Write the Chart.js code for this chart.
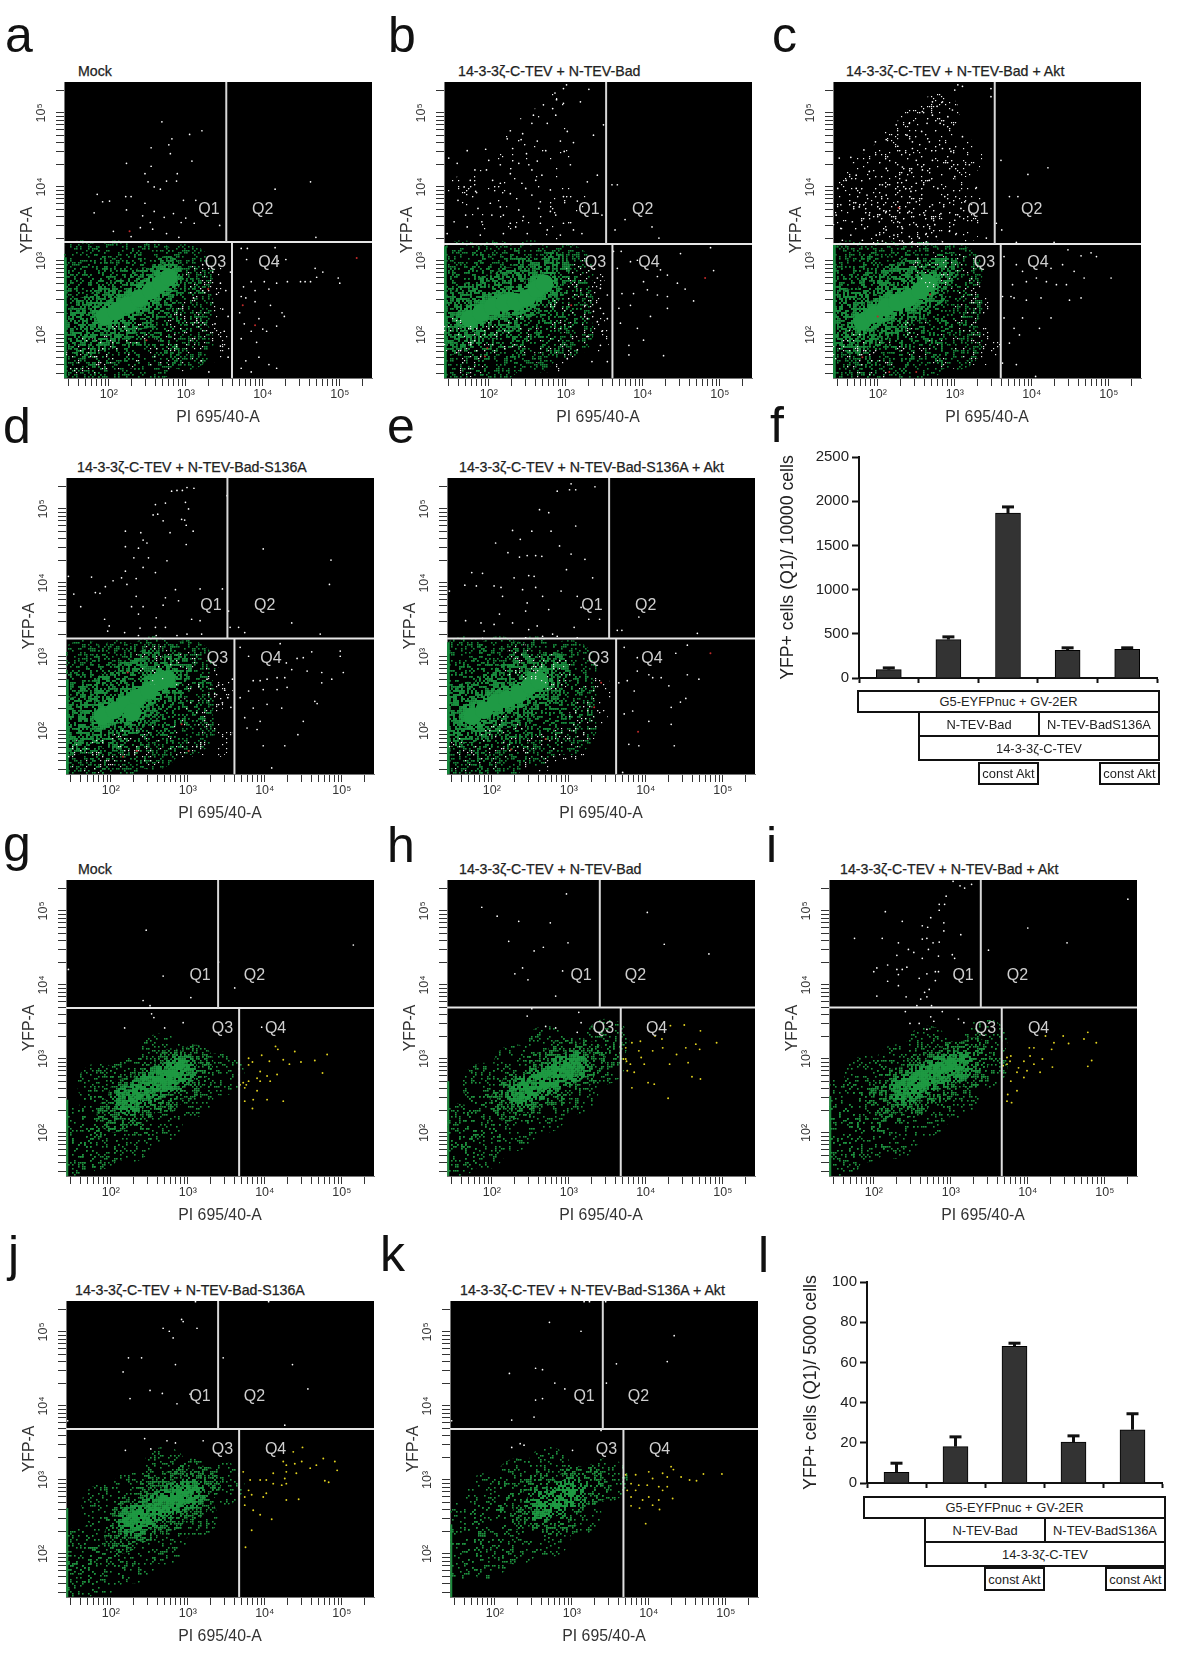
<!DOCTYPE html>
<html><head><meta charset="utf-8"><title>Flow cytometry panels</title>
<script src="https://cdn.jsdelivr.net/npm/chart.js@4"></script>
<style>
html,body{margin:0;padding:0;background:#fff;width:1200px;height:1677px;overflow:hidden;font-family:"Liberation Sans",Arial,sans-serif}
canvas{position:absolute}
.let{position:absolute;font-size:50px;line-height:50px;color:#111}
.ttl{position:absolute;font-size:14.2px;line-height:16px;color:#222;white-space:nowrap;-webkit-text-stroke:.25px #222}
.box{position:absolute;box-sizing:border-box;border:2px solid #111;background:#fff;color:#222;font-size:12.9px;display:flex;align-items:center;justify-content:center;white-space:nowrap}
</style></head><body>
<script>
// ---------- axis ticks (raw intensity) ----------
const fcsTicks=[30,40,50,60,70,80,90,100,200,300,400,500,600,700,800,900,1000,2000,3000,4000,5000,6000,7000,8000,9000,10000,20000,30000,40000,50000,60000,70000,80000,90000,100000,200000];
const decadeLabels={100:"10²",1000:"10³",10000:"10⁴",100000:"10⁵"};
// gates: upper vertical x, horizontal y, lower vertical x
const a_gate=[352.6,325.7,360],b_gate=[352.4,323,360.6],c_gate=[351.9,323,359.7],d_gate=[351.5,324.8,360.6],e_gate=[352.4,324.8,361.5];
const g_gate=[339.4,368.9,366.7],h_gate=[340.3,369.4,367.5],i_gate=[339,369.4,366.2],j_gate=[339.4,368.9,366.7],k_gate=[340.3,368.9,367.1];
// top of the event pile-up on the left axis
const pileTop={a:305,b:320,c:322,d:270,e:320,g:245,h:270,i:250,j:262,k:240};
// green cloud outlines: wide region, dense region, core ridge
const a_wide=[165,170,165,215,165,255,165,290,210,170,210,215,210,255,210,290,255,175,255,220,255,260,255,290,300,190,300,240,300,285];
const a_mid=[155,210,170,190,170,230,195,200,195,245,220,215,220,255,245,230,245,270,265,250,275,285];
const a_core=[195,225,210,232,225,241,240,250,255,260,268,270,278,278];
const b_wide=[165,170,165,215,165,255,165,290,210,175,210,215,210,255,210,290,255,185,255,220,255,260,255,290,300,205,300,245,300,285];
const b_mid=[155,195,155,235,175,205,175,250,200,215,200,260,225,225,225,270,250,245,250,285,275,260,285,290];
const b_core=[175,222,190,230,205,238,220,243,235,245,250,250,262,262,272,270];
const c_wide=[165,170,165,215,165,255,165,290,210,170,210,215,210,255,210,290,255,175,255,220,255,260,255,290,300,190,300,240,300,285];
const c_mid=[150,205,150,245,170,195,170,240,195,205,195,260,220,220,220,275,245,240,245,285,270,260,285,290];
const c_core=[180,218,195,228,210,237,225,244,240,250,255,260,265,270];
const d_wide=[165,165,165,210,165,250,165,285,210,165,210,210,210,250,210,285,255,185,255,225,255,260,255,290,300,205,300,245,300,285];
const d_mid=[155,190,155,225,175,205,175,245,200,195,200,260,225,215,225,275,250,240,250,290,275,255,285,285];
const d_core=[190,220,205,228,220,236,235,245,250,255,262,266,272,270,228,225];
const e_wide=[165,170,165,215,165,255,165,290,210,170,210,215,210,255,210,290,255,190,255,225,255,260,255,290,300,205,300,245,300,285];
const e_mid=[150,200,150,235,170,205,170,245,195,210,195,255,220,225,220,270,245,240,245,285,270,255,280,285];
const e_core=[175,220,190,228,205,238,220,243,235,250,250,262,262,268];
const g_wide=[155,165,155,205,185,180,185,225,185,265,225,190,225,235,225,275,265,215,265,260,265,305,305,250,305,290,345,280];
const g_mid=[205,225,220,250,235,235,250,265,270,250,280,290,300,270,310,295];
const g_core=[225,245,245,258,262,270,280,278,292,285];
const h_wide=[155,170,155,210,190,180,190,225,190,265,230,205,230,250,230,290,270,230,270,275,270,315,310,255,310,300,345,295,350,325];
const h_mid=[220,240,235,262,250,250,265,285,280,262,295,305,310,280,325,300];
const h_core=[240,255,258,265,275,274,292,283,305,290];
const i_wide=[155,165,155,205,155,245,190,190,190,230,190,275,230,195,230,245,230,290,270,225,270,270,270,315,310,250,310,295,345,290,345,325];
const i_mid=[215,245,235,265,250,245,265,285,285,265,305,300,325,285,330,305];
const i_core=[240,258,258,268,275,278,292,286,308,290];
const j_wide=[155,165,155,205,190,175,190,220,190,265,230,190,230,240,230,285,270,215,270,265,270,315,310,250,310,300,345,295];
const j_mid=[215,225,225,250,245,240,255,280,275,255,290,295,305,270,320,295];
const j_core=[230,245,248,254,268,265,285,277,302,282];
const k_wide=[155,195,155,240,190,195,190,240,190,280,230,215,230,260,230,300,270,225,270,270,270,315,310,255,310,295,345,300];
const k_mid=[245,250,260,285,270,245,280,275,295,260,305,295,325,290];
const k_core=[260,265,275,272,290,278,300,282];
// speckled white events mixed into the Q3 population, and the dense white cone in Q1 of b and c
const a_haze=[170,170,205,175,225,195,250,170,285,175,300,215,320,240,325,275,333,190];
const b_haze=[175,170,200,190,240,200,285,175,300,230,325,240,333,200,325,280,160,200];
const c_haze=[165,180,190,160,215,170,250,195,290,180,315,220,330,250,333,185,310,285,270,285];
const d_haze=[170,165,210,175,250,180,295,190,320,235,333,260,333,190,300,280,255,290];
const e_haze=[165,165,195,175,220,195,260,170,300,185,325,215,333,250,280,280,240,290];
const b_cone=[170,390,195,400,195,360,225,450,225,410,225,365,255,470,255,425,255,375,285,500,285,445,285,390,285,350,315,365];
const c_cone=[165,395,165,360,190,420,190,385,190,350,220,450,220,415,220,380,220,350,250,480,250,445,250,410,250,375,250,345,280,500,280,465,280,430,280,395,280,355,310,440,310,380,310,350];
// individually visible events
const a_white=[269,488,305,471,321,476,282,465,255,453,278,457,280,445,223,432,308,435,255,428,247,418,289,418,275,408,288,408,251,407,259,400,267,397,462,407,416,397,185,390,192,380,201,381,222,387,229,387,223,369,181,365,247,378,297,382,313,382,259,367,284,364,244,361,272,359,300,358,254,352,294,352,311,351,206,340,241,345,257,343,344,348,275,337,229,333,291,332,469,332,372,317,380,317,416,318,379,302,420,300,430,302,468,290,478,285,470,278,449,272,455,272,462,272,498,277,500,270,385,272,402,272,418,270,432,272,375,265,390,260,408,262,372,252,378,250,390,245,410,240,425,230,428,225,370,230,395,222,376,215,385,205,400,208,418,212,372,195,392,190,405,205,378,165,395,170,408,160,418,155,372,155,385,150,322,295,335,285,345,270,352,260,340,255,310,250,348,235,355,225,338,215,350,205,345,185,320,165,355,170,330,150,358,285];
const a_red=[522,304,374,240,390,213,249,193,227,340,329,262];
const b_white=[301,538,297,533,330,532,286,527,319,515,271,511,288,518,283,506,297,513,287,497,258,497,256,486,276,486,349,484,228,476,244,472,302,475,336,470,224,465,242,464,263,462,293,462,310,460,231,452,196,451,172,449,274,449,298,448,249,445,148,439,200,436,263,435,159,432,215,430,239,432,252,430,306,430,197,423,182,423,228,418,256,423,269,416,341,416,205,409,176,409,215,405,243,405,261,409,328,407,360,403,367,403,168,400,248,398,183,394,280,396,228,391,256,389,297,387,160,382,202,378,267,380,315,381,186,371,215,373,239,369,265,371,280,367,170,362,204,362,219,362,245,360,287,362,347,362,377,356,155,353,191,353,228,351,267,351,297,351,172,346,235,346,276,342,364,342,412,346,310,342,146,337,189,335,219,337,250,337,293,335,321,337,421,331,362,313,372,313,449,310,488,318,384,299,393,301,367,290,492,287,423,288,401,272,419,279,432,281,445,270,455,262,466,246,406,261,373,256,388,256,419,254,432,252,369,236,384,240,432,236,410,225,371,216,393,209,401,193,382,186,382,173,427,172,341,277,345,236,349,229,354,222,336,232,341,218,347,205,325,240,328,222,345,186,354,164,334,164,302,168,315,180,328,198,345,263,354,254];
const b_red=[481,277,307,240,198,182,195,171];
const c_white=[304,538,310,536,300,531,347,533,347,522,271,515,284,515,277,509,297,504,258,502,271,497,291,495,264,486,281,486,241,486,224,484,257,475,238,470,310,468,211,464,267,461,245,461,197,461,284,452,245,452,226,455,182,450,295,448,165,440,150,439,360,436,421,426,319,430,271,436,250,436,211,425,232,427,258,423,189,421,172,416,237,409,267,409,300,414,395,417,159,409,206,403,250,405,278,398,328,399,172,398,148,398,186,389,211,389,243,394,287,387,313,380,371,387,382,387,152,376,176,373,226,380,250,380,271,376,308,371,146,362,189,362,211,367,241,367,261,362,282,364,300,355,167,353,202,353,226,353,250,349,274,349,354,351,152,344,183,344,211,342,232,344,263,337,293,340,361,342,165,335,198,335,221,335,241,333,254,331,276,333,302,337,341,331,154,328,180,328,206,327,232,327,245,326,263,326,284,326,380,325,429,325,447,315,464,307,477,311,484,306,364,306,380,295,440,295,425,290,455,286,468,277,503,277,388,286,406,277,375,268,393,272,419,272,432,268,445,268,362,252,373,252,377,250,393,247,412,250,464,250,449,247,425,223,388,223,364,223,377,209,410,209,371,189,384,200,362,162,380,160,405,144];
const c_red=[227,372,200,225,180,170,215,150,250,150,268,255];
const d_white=[299,529,308,528,279,524,286,525,293,525,271,508,258,506,351,518,297,509,301,500,255,492,261,493,292,486,268,484,296,485,298,478,219,470,239,468,277,468,307,470,242,458,247,454,298,452,219,449,236,447,398,446,230,434,249,434,273,430,486,431,242,421,219,416,258,414,175,408,214,407,221,398,203,403,233,406,484,398,193,395,145,409,180,387,186,386,284,391,316,392,345,392,152,385,233,382,271,380,161,368,227,368,242,368,268,370,288,376,259,353,353,362,192,351,236,358,305,351,316,349,435,346,198,342,258,340,238,339,271,340,366,340,196,335,218,333,259,329,286,329,299,331,318,331,374,333,355,340,472,331,236,329,368,313,379,301,420,318,461,307,498,308,498,301,442,298,450,299,428,292,435,283,455,281,474,279,502,279,487,270,474,265,385,268,394,268,403,270,416,272,426,272,379,254,398,256,416,256,429,259,465,240,468,237,368,245,385,231,403,236,422,231,374,218,394,213,450,213,443,195,426,180,398,180,377,204,390,202,409,150,340,262,348,255,352,245,345,238,335,250,356,232,325,270,358,270];
const d_red=[216,165,234,173,301,173,292,209,222,279];
const e_white=[303,534,334,530,285,524,301,526,309,526,262,499,274,495,252,470,277,470,227,471,309,477,237,459,205,454,288,450,236,435,246,437,257,437,265,436,221,441,303,439,321,432,297,418,174,414,188,413,229,407,248,410,255,409,331,407,180,396,165,397,203,396,240,391,257,394,212,394,145,389,214,382,290,389,266,382,246,373,311,382,316,367,210,358,244,362,274,364,391,354,166,349,326,351,340,351,186,346,203,344,227,346,259,342,307,340,248,337,190,335,363,336,369,336,467,332,279,331,188,325,244,326,266,328,285,328,311,326,372,313,454,316,389,299,439,305,389,281,404,276,409,272,420,272,454,276,469,270,430,261,365,265,385,254,376,268,452,244,445,239,433,232,383,227,372,223,404,213,433,209,378,182,437,180,391,180,370,144];
const e_red=[484,305,390,199,270,189,225,175,342,265,333,232];
const g_white=[246,474,515,454,340,431,268,412,145,421,361,396,304,383,242,379,251,372,253,361,256,356,218,342,270,342,294,349,396,343];
const g_yellow=[379,301,384,296,396,305,414,317,417,313,439,310,465,298,481,306,447,296,432,293,475,281,372,268,376,265,379,270,374,261,390,274,403,277,407,270,394,283,416,279,424,299,406,297,379,292,403,245,424,243,384,233,390,257,374,243,385,245,394,270,368,265];
const h_white=[297,523,187,505,207,493,235,486,276,484,402,498,222,459,299,457,267,451,255,446,424,455,482,442,240,423,292,419,230,415,247,407,283,385,252,368,246,358,313,363,270,344,283,342,316,349,311,336];
const h_yellow=[374,315,382,322,393,324,412,331,421,327,432,345,450,346,471,338,492,322,465,320,452,315,470,313,455,295,440,306,431,293,374,300,380,293,398,293,391,311,409,311,422,315,376,284,385,282,403,268,411,266,382,261,429,247,460,276,471,273,394,302,375,297,371,300];
const i_white=[303,540,312,534,318,531,327,536,294,520,285,509,292,509,285,501,215,499,237,486,263,480,274,491,291,484,270,478,291,473,313,468,175,463,211,463,232,457,263,462,269,463,277,457,285,458,245,448,271,448,252,444,230,440,263,436,284,439,302,441,305,436,204,423,200,418,218,427,230,421,237,421,243,424,218,405,232,414,269,415,280,418,284,418,259,409,280,406,232,399,272,394,266,390,204,385,242,384,261,381,269,384,275,372,256,372,241,364,274,357,289,364,247,348,259,348,278,351,310,354,317,349,269,340,530,516,566,498,400,477,451,457,349,447];
const i_yellow=[373,302,377,297,378,304,373,293,368,291,402,315,423,331,434,322,446,331,453,321,473,327,478,336,489,322,483,298,478,290,408,315,431,313,403,304,395,297,388,288,408,293,419,300,399,284,416,282,386,282,432,289,386,257,374,252,373,243,379,241,378,270,395,275];
const j_white=[310,541,405,541,292,517,294,514,268,505,276,501,312,505,281,492,223,465,240,465,284,456,346,465,436,456,216,446,251,421,267,417,225,410,303,416,286,403,456,423,144,380,426,374,244,356,273,353,284,350,320,353,219,340,252,342];
const j_yellow=[424,325,428,320,439,322,448,325,476,329,491,325,494,313,449,344,437,338,459,316,467,320,478,299,483,297,426,302,428,295,411,309,402,300,394,300,422,293,372,311,381,300,379,286,374,277,383,280,398,277,402,282,444,274,428,273,385,259,374,266,394,253,409,247,383,232,375,209,428,311,441,309,411,295];
const k_white=[316,541,323,541,344,541,271,513,312,501,433,495,219,444,253,451,262,449,358,457,424,460,278,431,345,431,291,423,253,408,262,410,251,385,222,381,144,380,338,367,222,344,233,349,238,347,301,340];
const k_yellow=[370,307,377,295,383,307,400,311,418,309,429,318,432,314,442,304,453,300,471,308,462,299,495,308,424,304,405,302,387,293,398,293,424,291,413,291,372,286,383,286,377,277,400,277,418,286,431,275,413,273,392,273,377,265,388,262,405,266,414,260,396,241];
// quadrant labels (100*log10), mixed-cell and green-only panels
const Q_names=["Q1","Q2","Q3","Q4"];
const Q_upper=[330,370,400,370,338.5,298,408,298];
const Q_lower=[316,413,386.6,413,345,341,414,341];
// ---------- bar charts ----------
const barCategories=["Vector","N-TEV-Bad","N-TEV-Bad + const Akt","N-TEV-BadS136A","N-TEV-BadS136A + const Akt"];
const f_values=[94,434,1866,313,324];
const f_errTop=[120,471,1941,347,347];
const l_values=[5.3,18.1,68,20.4,26.5];
const l_errTop=[10.1,23.2,69.8,23.7,34.7];

// ---------- rendering ----------
const SANS='"Liberation Sans",Arial,sans-serif';
function toXY(v){const o=[];for(let i=0;i<v.length;i+=2)o.push({x:Math.pow(10,v[i]/100),y:Math.pow(10,v[i+1]/100)});return o}
function speckle(color,density,seed,dot){ // fixed texture used as a fill style
  const c=document.createElement('canvas');c.width=c.height=256;const g=c.getContext('2d');g.fillStyle=color;
  for(let y=0;y<128;y++)for(let x=0;x<128;x++){
    let h=Math.imul(x*374761+y*668265+seed*9973+1,1274126177);h=Math.imul(h^(h>>>13),1103515245);
    if(((h^(h>>>16))>>>0)%100<density)g.fillRect(x*2,y*2,dot,dot);
  }
  return g.createPattern(c,'repeat');
}
function noMargins(s){s.paddingTop=s.paddingBottom=s.paddingLeft=s.paddingRight=0}
const backdrop={id:'backdrop',beforeDraw(ch){const a=ch.chartArea,g=ch.ctx;g.save();g.fillStyle='#000';g.fillRect(a.left,a.top,a.width,a.height);g.restore()}};
const quadText={id:'quadText',afterDatasetsDraw(ch,_,o){const g=ch.ctx;g.save();g.font='16px '+SANS;g.fillStyle='#cfcfcf';g.textAlign='center';g.textBaseline='middle';
  Q_names.forEach((n,i)=>g.fillText(n,ch.scales.x.getPixelForValue(Math.pow(10,o.pos[2*i]/100)),ch.scales.y.getPixelForValue(Math.pow(10,o.pos[2*i+1]/100))));g.restore()}};
function layer(v,r,color){return {data:toXY(v),pointRadius:r,pointHoverRadius:r,pointBackgroundColor:color,pointBorderWidth:0,showLine:false}}
function rule(pts,color,w){return {data:toXY(pts),showLine:true,borderColor:color,borderWidth:w,pointRadius:0,fill:false,tension:0}}
function logAxis(title,isY,pad){return {type:'logarithmic',min:26.2144,max:262144,
  afterBuildTicks(s){s.ticks=fcsTicks.map(v=>({value:v,major:v in decadeLabels}))},
  afterFit(s){if(isY)s.width=50;else s.height=50;noMargins(s)},
  border:{color:'#777',width:1},grid:{drawOnChartArea:false,drawTicks:true,tickLength:8,tickColor:'#333',tickWidth:1},
  ticks:{autoSkip:false,color:'#333',font:{family:SANS,size:12.5},padding:isY?5:1,minRotation:isY?90:0,maxRotation:isY?90:0,crossAlign:isY?'center':'near',callback:v=>decadeLabels[v]||''},
  title:{display:true,text:title,color:'#333',font:{family:SANS,size:15.8},padding:pad}}}
function addLetter(t,x,base){const d=document.createElement('div');d.className='let';d.textContent=t;d.style.left=x+'px';d.style.top=(base-43)+'px';document.body.appendChild(d)}
function addTitle(t,x,top){const d=document.createElement('div');d.className='ttl';d.textContent=t;d.style.left=x+'px';d.style.top=(top-19)+'px';document.body.appendChild(d)}
function panel(o,idx){
  const cv=document.createElement('canvas');const W=364,H=348;cv.width=W;cv.height=H;cv.style.left=(o.L-50)+'px';cv.style.top=(o.T-2)+'px';document.body.appendChild(cv);
  const G=o.gate,up=!o.yellow,mn=141.9,mx=541.9;
  const rW=up?28:22,rM=up?16:18;
  const ds=[
    rule([G[0],G[1],G[0],mx],'#d8d8d8',2),
    rule([mn,G[1],mx,G[1]],'#e6e6e6',2),
    rule([G[2],mn,G[2],G[1]],'#e0e0e0',2)];
  ds.push(layer(o.white,.85,'#ffffff'));
  if(o.yellow)ds.push(layer(o.yellow,.95,'#e4d420'));
  if(o.red)ds.push(layer(o.red,1,'#c02a2a'));
  if(o.haze)ds.push(layer(o.haze,20,speckle('#e8e8e8',8,idx+50,1.2)));
  if(o.cone)ds.push(layer(o.cone,20,speckle('#f0f0f0',o.coneD,idx+70,1.2)));
  ds.push(rule([143.5,mn,143.5,o.pile],up?'#16863c':'#1c8a3c',up?3:2));
  ds.push(layer(o.core,up?9:11,up?'#1f9a45':speckle('#1f9a42',o.coreD||92,idx,1.8)));
  ds.push(layer(o.core,up?14:16,speckle('#1f9a45',up?78:(o.ringD||70),idx,1.8)));
  ds.push(layer(o.mid,rM,speckle(up?'#1b8f40':'#1f9440',up?58:(o.midD||50),idx,up?1.8:1.6)));
  ds.push(layer(o.wide,rW,speckle(up?'#178a3c':'#1f9440',up?30:20,idx,1.6)));
  new Chart(cv,{type:'scatter',data:{datasets:ds},plugins:[backdrop,quadText],options:{responsive:false,animation:false,events:[],
    layout:{autoPadding:false,padding:{top:2,right:6,left:0,bottom:0}},
    plugins:{legend:{display:false},tooltip:{enabled:false},quadText:{pos:up?Q_upper:Q_lower}},
    scales:{x:logAxis('PI 695/40-A',false,{top:0,bottom:.5}),y:logAxis('YFP-A',true,{top:4,bottom:0})}}});
  addTitle(o.title,o.L+o.tx,o.T);addLetter(o.letter,o.lx,o.ly);
}
const errBars={id:'errBars',afterDatasetsDraw(ch,_,o){const g=ch.ctx,y=ch.scales.y;g.save();g.fillStyle='#111';
  ch.getDatasetMeta(0).data.forEach((b,i)=>{const t=y.getPixelForValue(o.tops[i]),v=y.getPixelForValue(ch.data.datasets[0].data[i]);g.fillRect(b.x-1.5,t,3,v-t);g.fillRect(b.x-6,t-1,12,3)});g.restore()}};
function bars(o){
  const cv=document.createElement('canvas');const H=o.top+o.h+10;cv.width=o.w;cv.height=H;cv.style.left=o.cl+'px';cv.style.top=(o.y0-o.top-o.h)+'px';document.body.appendChild(cv);
  new Chart(cv,{type:'bar',data:{labels:barCategories,datasets:[{data:o.values,backgroundColor:'#333',borderColor:'#000',borderWidth:1,barThickness:25}]},plugins:[errBars],options:{responsive:false,animation:false,events:[],
    layout:{autoPadding:false,padding:{top:o.top,right:3,left:0,bottom:0}},
    plugins:{legend:{display:false},tooltip:{enabled:false},errBars:{tops:o.errs}},
    scales:{x:{type:'category',afterFit(s){s.height=10;noMargins(s)},border:{color:'#111',width:2},grid:{offset:true,drawOnChartArea:false,drawTicks:true,tickLength:5,tickColor:'#111',tickWidth:2},ticks:{display:false}},
      y:{min:0,max:o.max,afterFit(s){s.width=o.axisW;noMargins(s)},border:{color:'#111',width:2},grid:{drawOnChartArea:false,drawTicks:true,tickLength:7,tickColor:'#111',tickWidth:2},
        ticks:{stepSize:o.step,color:'#222',padding:3,font:{family:SANS,size:15},callback:v=>String(v)},
        title:{display:true,text:o.ytitle,color:'#222',font:{family:SANS,size:17.7},padding:{top:o.tp,bottom:0}}}}}});
  o.boxes.forEach(b=>{const d=document.createElement('div');d.className='box';d.textContent=b[0];d.style.left=b[1]+'px';d.style.top=b[2]+'px';d.style.width=(b[3]-b[1])+'px';d.style.height=(b[4]-b[2])+'px';document.body.appendChild(d)});
}
const T1="14-3-3ζ-C-TEV + N-TEV-Bad",T2=T1+" + Akt",T3=T1+"-S136A",T4=T3+" + Akt";
[
 {letter:'a',lx:5,ly:53,title:'Mock',tx:14,L:64,T:82,gate:a_gate,pile:pileTop.a,wide:a_wide,mid:a_mid,core:a_core,haze:a_haze,white:a_white,red:a_red},
 {letter:'b',lx:388,ly:53,title:T1,tx:14,L:444,T:82,gate:b_gate,pile:pileTop.b,wide:b_wide,mid:b_mid,core:b_core,haze:b_haze,white:b_white,red:b_red,cone:b_cone,coneD:3},
 {letter:'c',lx:772,ly:53,title:T2,tx:13,L:833,T:82,gate:c_gate,pile:pileTop.c,wide:c_wide,mid:c_mid,core:c_core,haze:c_haze,white:c_white,red:c_red,cone:c_cone,coneD:11},
 {letter:'d',lx:3,ly:444,title:T3,tx:11,L:66,T:478,gate:d_gate,pile:pileTop.d,wide:d_wide,mid:d_mid,core:d_core,haze:d_haze,white:d_white,red:d_red},
 {letter:'e',lx:387,ly:444,title:T4,tx:12,L:447,T:478,gate:e_gate,pile:pileTop.e,wide:e_wide,mid:e_mid,core:e_core,haze:e_haze,white:e_white,red:e_red},
 {letter:'g',lx:3,ly:862,title:'Mock',tx:12,L:66,T:880,gate:g_gate,pile:pileTop.g,wide:g_wide,mid:g_mid,core:g_core,white:g_white,yellow:g_yellow},
 {letter:'h',lx:387,ly:863,title:T1,tx:12,L:447,T:880,gate:h_gate,pile:pileTop.h,wide:h_wide,mid:h_mid,core:h_core,white:h_white,yellow:h_yellow},
 {letter:'i',lx:766,ly:863,title:T2,tx:11,L:829,T:880,gate:i_gate,pile:pileTop.i,wide:i_wide,mid:i_mid,core:i_core,white:i_white,yellow:i_yellow},
 {letter:'j',lx:8,ly:1272,title:T3,tx:9,L:66,T:1301,gate:j_gate,pile:pileTop.j,wide:j_wide,mid:j_mid,core:j_core,white:j_white,yellow:j_yellow},
 {letter:'k',lx:380,ly:1272,title:T4,tx:10,L:450,T:1301,gate:k_gate,pile:pileTop.k,wide:k_wide,mid:k_mid,core:k_core,white:k_white,yellow:k_yellow,coreD:68,ringD:50,midD:38}
].forEach(panel);
addLetter('f',770,443);addLetter('l',758,1273);
bars({cl:770,w:390,top:10,h:221,y0:678,axisW:89,max:2500,step:500,values:f_values,errs:f_errTop,tp:7.5,ytitle:'YFP+ cells (Q1)/ 10000 cells',
 boxes:[['G5-EYFPnuc + GV-2ER',857,690,1160,713],['N-TEV-Bad',918,711,1040,737],['N-TEV-BadS136A',1038,711,1160,737],['14-3-3ζ-C-TEV',918,735,1160,761],['const Akt',978,762,1039,785],['const Akt',1099,762,1160,785]]});
bars({cl:785,w:380,top:10,h:201,y0:1483,axisW:82,max:100,step:20,values:l_values,errs:l_errTop,tp:15.8,ytitle:'YFP+ cells (Q1)/ 5000 cells',
 boxes:[['G5-EYFPnuc + GV-2ER',863,1496,1166,1519],['N-TEV-Bad',924,1517,1046,1543],['N-TEV-BadS136A',1044,1517,1166,1543],['14-3-3ζ-C-TEV',924,1541,1166,1567],['const Akt',984,1567,1045,1591],['const Akt',1105,1567,1166,1591]]});
</script>
</body></html>
